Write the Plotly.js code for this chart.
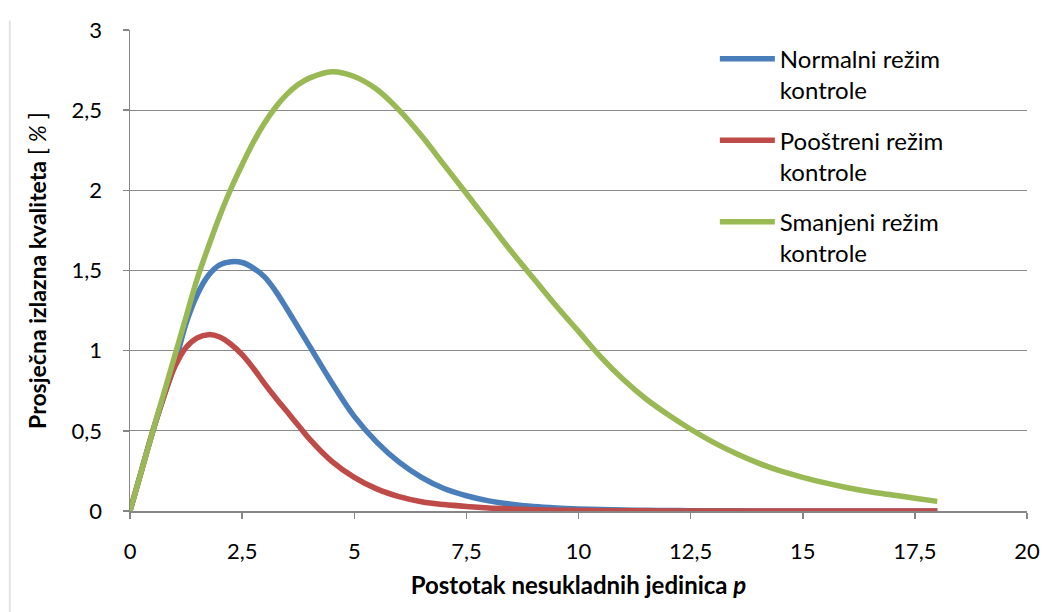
<!DOCTYPE html>
<html>
<head>
<meta charset="utf-8">
<script src="https://cdn.plot.ly/plotly-3.0.1.min.js"></script>
<style>html,body{margin:0;padding:0;background:#fff;}#chart{width:1056px;height:612px;}</style>
</head>
<body>
<div id="chart"></div>
<script>
// Postotak nesukladnih jedinica p
const pValues = [0, 0.25, 0.5, 0.75, 1, 1.25, 1.5, 1.75, 2, 2.25, 2.5, 2.75, 3, 3.25, 3.5, 3.75, 4, 4.5, 5, 5.5, 6, 6.5, 7, 7.5, 8, 8.5, 9, 9.5, 10, 10.5, 11, 11.5, 12, 12.5, 13, 13.5, 14, 14.5, 15, 15.5, 16, 16.5, 17, 17.5, 18];

// Normalni režim kontrole
const normalniAOQ = [0, 0.245, 0.49, 0.71, 0.92, 1.17, 1.35, 1.47, 1.535, 1.555, 1.55, 1.515, 1.46, 1.37, 1.26, 1.145, 1.03, 0.80, 0.59, 0.43, 0.305, 0.21, 0.14, 0.095, 0.063, 0.042, 0.028, 0.019, 0.013, 0.009, 0.006, 0.004, 0.003, 0.002, 0.001, 0.001, 0, 0, 0, 0, 0, 0, 0, 0, 0];

// Pooštreni režim kontrole
const poostreniAOQ = [0, 0.245, 0.49, 0.71, 0.90, 1.02, 1.08, 1.10, 1.085, 1.04, 0.975, 0.89, 0.795, 0.705, 0.62, 0.535, 0.45, 0.31, 0.21, 0.138, 0.09, 0.058, 0.04, 0.028, 0.019, 0.013, 0.008, 0.005, 0.003, 0.002, 0.001, 0.001, 0, 0, 0, 0, 0, 0, 0, 0, 0, 0, 0, 0, 0];

// Smanjeni režim kontrole
const smanjeniAOQ = [0, 0.245, 0.49, 0.73, 0.97, 1.21, 1.45, 1.65, 1.84, 2.01, 2.16, 2.30, 2.42, 2.52, 2.60, 2.66, 2.70, 2.74, 2.71, 2.63, 2.50, 2.34, 2.16, 1.98, 1.80, 1.62, 1.45, 1.28, 1.12, 0.96, 0.82, 0.70, 0.60, 0.51, 0.43, 0.36, 0.30, 0.25, 0.21, 0.175, 0.145, 0.12, 0.10, 0.08, 0.06];

const seriesNames = ["Normalni režim<br>kontrole", "Pooštreni režim<br>kontrole", "Smanjeni režim<br>kontrole"];
const seriesColors = ["#4A7EBB", "#BE4B48", "#98B954"];
const seriesValues = [normalniAOQ, poostreniAOQ, smanjeniAOQ];

const xTitle = "<b>Postotak nesukladnih jedinica <i>p</i></b>";
const yTitle = "<b>Prosječna izlazna kvaliteta</b> [ <i>%</i> ]";

const FONT = "Lato, 'Open Sans', sans-serif";

const traces = seriesValues.map((vals, i) => ({
  x: pValues,
  y: vals,
  type: "scatter",
  mode: "lines",
  name: seriesNames[i],
  legendgroup: "g" + i,
  line: {color: seriesColors[i], width: 5.5, shape: "spline", smoothing: 1},
  hoverinfo: "x+y"
}));

const layout = {
  width: 1056,
  height: 612,
  paper_bgcolor: "#ffffff",
  plot_bgcolor: "#ffffff",
  separators: ",.",
  font: {family: FONT, size: 22, color: "#000000"},
  margin: {l: 130, r: 29, t: 30, b: 101, pad: 0},
  showlegend: true,
  legend: {
    x: 0.652, y: 0.986, xanchor: "left", yanchor: "top",
    bgcolor: "rgba(0,0,0,0)",
    font: {family: FONT, size: 24, color: "#000000"},
    itemwidth: 55,
    valign: "top",
    traceorder: "grouped",
    tracegroupgap: 16
  },
  xaxis: {
    range: [0, 20],
    dtick: 2.5,
    tick0: 0,
    showgrid: false,
    zeroline: false,
    showline: true,
    linecolor: "#868686",
    linewidth: 1.5,
    ticks: "outside",
    ticklen: 6,
    tickcolor: "#868686",
    tickwidth: 1.5,
    ticklabelstandoff: 14,
    tickfont: {family: FONT, size: 22, color: "#000000"},
    title: {text: xTitle, font: {family: FONT, size: 24, color: "#000000"}, standoff: 14}
  },
  yaxis: {
    range: [0, 3],
    dtick: 0.5,
    tick0: 0,
    showgrid: true,
    gridcolor: "#898989",
    gridwidth: 1.3,
    zeroline: false,
    showline: true,
    linecolor: "#868686",
    linewidth: 1.5,
    ticks: "outside",
    ticklen: 6,
    tickcolor: "#868686",
    tickwidth: 1.5,
    ticklabelstandoff: 16,
    tickfont: {family: FONT, size: 22, color: "#000000"},
    title: {text: yTitle, font: {family: FONT, size: 23, color: "#000000"}, standoff: 18}
  },
  shapes: [{
    type: "line", xref: "paper", yref: "paper",
    x0: -0.134, x1: -0.134, y0: -0.21, y1: 1.02,
    line: {color: "#e4e4e4", width: 2}
  }]
};

Plotly.newPlot("chart", traces, layout, {displayModeBar: false, staticPlot: true});
</script>
</body>
</html>
